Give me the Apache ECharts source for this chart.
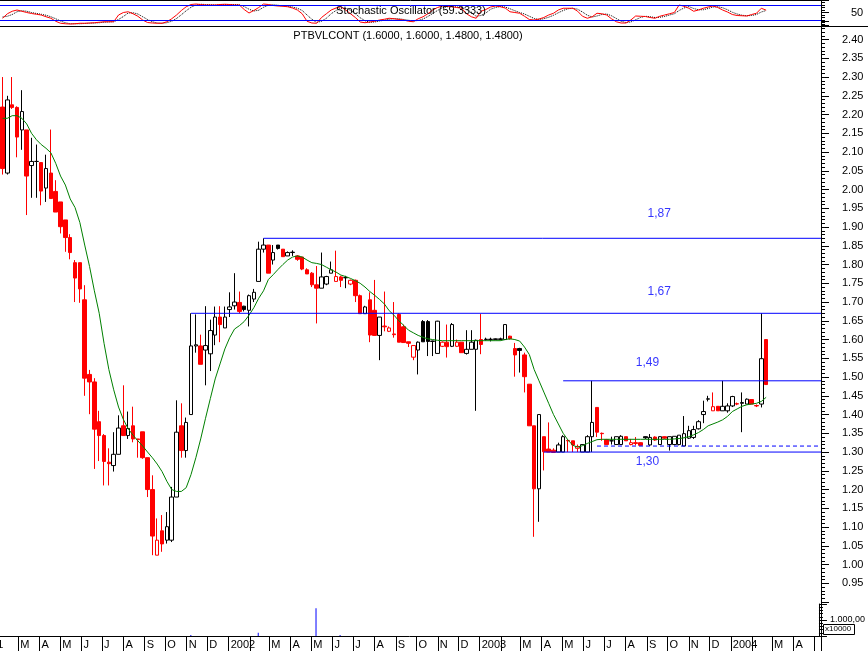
<!DOCTYPE html>
<html><head><meta charset="utf-8">
<script src="https://cdn.jsdelivr.net/npm/echarts@6/dist/echarts.min.js"></script>
<style>html,body{margin:0;padding:0;background:#fff}#c{width:868px;height:651px}</style>
</head><body><div id="c"></div><script>
// ---- data ----
const firstWeek = [2001, 1, 7]; // first candle (weekly bars)
const opens = [2.22,2.044,2.226,2.219,2.159,2.159,2.064,2.075,2.072,2.004,
2.044,1.995,1.967,1.919,1.872,1.805,1.805,1.706,1.507,1.487,
1.381,1.344,1.273,1.264,1.294,1.37,1.344,1.37,1.335,1.354,
1.285,1.20,1.025,1.09,1.065,1.065,1.18,1.37,1.304,1.40,
1.583,1.583,1.572,1.562,1.612,1.66,1.631,1.68,1.69,1.699,
1.689,1.678,1.708,1.755,1.841,1.852,1.812,1.852,1.841,1.823,
1.832,1.823,1.82,1.786,1.777,1.746,1.737,1.748,1.777,1.755,
1.767,1.765,1.748,1.758,1.717,1.669,1.706,1.678,1.611,1.636,
1.622,1.615,1.667,1.634,1.594,1.553,1.572,1.648,1.648,1.595,
1.563,1.582,1.593,1.582,1.582,1.593,1.563,1.574,1.574,1.60,
1.60,1.60,1.60,1.60,1.60,1.609,1.576,1.576,1.559,1.481,
1.37,1.202,1.341,1.308,1.305,1.30,1.30,1.331,1.33,1.31,
1.30,1.30,1.341,1.419,1.35,1.333,1.33,1.32,1.32,1.341,
1.32,1.325,1.325,1.341,1.319,1.34,1.32,1.341,1.32,1.32,
1.32,1.316,1.337,1.339,1.362,1.40,1.441,1.41,1.422,1.41,
1.41,1.423,1.429,1.43,1.428,1.44,1.424,1.428,1.60];
const highs = [2.30,2.25,2.30,2.222,2.265,2.159,2.138,2.12,2.072,2.093,
2.16,2.025,1.967,1.919,1.881,1.812,1.805,1.745,1.519,1.497,
1.41,1.348,1.31,1.353,1.398,1.478,1.408,1.421,1.335,1.354,
1.285,1.238,1.123,1.132,1.14,1.207,1.438,1.43,1.392,1.67,
1.667,1.613,1.689,1.653,1.688,1.689,1.688,1.726,1.777,1.728,
1.69,1.72,1.735,1.861,1.87,1.852,1.852,1.852,1.841,1.835,
1.838,1.825,1.82,1.79,1.78,1.796,1.832,1.77,1.808,1.837,
1.77,1.77,1.76,1.76,1.72,1.69,1.726,1.759,1.66,1.728,
1.635,1.70,1.67,1.64,1.594,1.584,1.595,1.652,1.652,1.597,
1.65,1.595,1.64,1.644,1.60,1.593,1.625,1.625,1.60,1.668,
1.605,1.605,1.603,1.605,1.64,1.61,1.591,1.578,1.565,1.481,
1.37,1.40,1.341,1.379,1.31,1.325,1.345,1.332,1.33,1.32,
1.32,1.345,1.49,1.419,1.352,1.335,1.341,1.341,1.345,1.341,
1.335,1.34,1.326,1.342,1.348,1.342,1.342,1.342,1.341,1.342,
1.345,1.396,1.37,1.37,1.385,1.437,1.45,1.459,1.422,1.49,
1.43,1.45,1.432,1.459,1.443,1.44,1.427,1.67,1.60];
const lows = [2.04,2.04,2.215,2.086,2.106,1.932,1.978,1.978,1.958,1.967,
1.976,1.94,1.883,1.834,1.814,1.70,1.698,1.45,1.401,1.255,
1.276,1.211,1.211,1.248,1.294,1.344,1.335,1.326,1.285,1.282,
1.18,1.025,1.025,1.034,1.056,1.06,1.18,1.285,1.285,1.40,
1.565,1.534,1.478,1.516,1.585,1.593,1.631,1.66,1.68,1.67,
1.675,1.635,1.70,1.755,1.832,1.777,1.80,1.84,1.821,1.823,
1.823,1.81,1.785,1.775,1.74,1.643,1.737,1.745,1.777,1.755,
1.74,1.737,1.745,1.70,1.669,1.669,1.593,1.611,1.545,1.622,
1.62,1.605,1.593,1.592,1.58,1.545,1.507,1.594,1.556,1.556,
1.563,1.58,1.552,1.58,1.58,1.565,1.56,1.574,1.41,1.561,
1.597,1.595,1.598,1.598,1.60,1.60,1.501,1.512,1.459,1.37,
1.074,1.114,1.251,1.30,1.299,1.30,1.30,1.30,1.30,1.30,
1.30,1.30,1.30,1.34,1.33,1.32,1.32,1.319,1.319,1.33,
1.318,1.318,1.318,1.335,1.316,1.33,1.319,1.335,1.304,1.318,
1.318,1.316,1.335,1.335,1.36,1.377,1.435,1.41,1.41,1.41,
1.405,1.42,1.425,1.353,1.428,1.428,1.42,1.419,1.48];
const closes = [2.056,2.239,2.219,2.14,2.208,2.036,2.075,2.075,1.996,2.056,
1.976,1.94,1.901,1.872,1.832,1.764,1.735,1.497,1.487,1.361,
1.344,1.275,1.269,1.294,1.364,1.344,1.363,1.335,1.333,1.285,
1.20,1.076,1.065,1.055,1.101,1.18,1.353,1.304,1.379,1.583,
1.586,1.534,1.584,1.624,1.66,1.64,1.66,1.687,1.70,1.675,
1.68,1.717,1.726,1.841,1.852,1.777,1.832,1.843,1.821,1.832,
1.833,1.814,1.788,1.775,1.746,1.737,1.767,1.768,1.786,1.768,
1.758,1.765,1.758,1.717,1.669,1.687,1.612,1.611,1.66,1.634,
1.631,1.613,1.593,1.592,1.59,1.584,1.593,1.594,1.595,1.596,
1.649,1.593,1.581,1.64,1.593,1.565,1.574,1.593,1.598,1.587,
1.601,1.601,1.602,1.602,1.64,1.602,1.559,1.571,1.501,1.37,
1.202,1.40,1.301,1.30,1.299,1.319,1.341,1.33,1.319,1.315,
1.32,1.341,1.379,1.353,1.349,1.32,1.33,1.341,1.342,1.33,
1.325,1.323,1.318,1.338,1.339,1.332,1.341,1.337,1.341,1.342,
1.345,1.349,1.357,1.36,1.381,1.408,1.442,1.421,1.41,1.422,
1.423,1.448,1.428,1.432,1.441,1.428,1.423,1.549,1.48];
const movingAvg = [2.19,2.19,2.197,2.197,2.19,2.175,2.15,2.133,2.12,2.11,
2.098,2.07,2.036,2.012,1.975,1.952,1.912,1.852,1.795,1.73,
1.67,1.59,1.52,1.466,1.42,1.387,1.362,1.345,1.33,1.316,
1.30,1.285,1.268,1.248,1.222,1.20,1.195,1.195,1.205,1.24,
1.285,1.335,1.39,1.443,1.495,1.535,1.575,1.605,1.628,1.637,
1.648,1.665,1.685,1.71,1.73,1.76,1.773,1.787,1.80,1.812,
1.82,1.823,1.82,1.812,1.805,1.803,1.80,1.793,1.786,1.78,
1.772,1.768,1.763,1.757,1.75,1.74,1.728,1.718,1.707,1.695,
1.677,1.665,1.65,1.638,1.625,1.618,1.611,1.606,1.602,1.60,
1.598,1.597,1.597,1.597,1.597,1.597,1.597,1.597,1.597,1.597,
1.597,1.597,1.597,1.597,1.60,1.602,1.60,1.596,1.58,1.56,
1.52,1.49,1.46,1.43,1.40,1.375,1.35,1.332,1.318,1.313,
1.317,1.323,1.328,1.333,1.334,1.334,1.334,1.334,1.334,1.334,
1.334,1.334,1.334,1.334,1.334,1.334,1.334,1.334,1.334,1.335,
1.336,1.338,1.341,1.346,1.352,1.36,1.37,1.375,1.38,1.386,
1.395,1.408,1.415,1.422,1.426,1.428,1.43,1.435,1.446];
const stochK = [27,45,55,60,55,50,46,43,40,33,
27,15,7,5,4,5,7,7,8,9,
11,13,13,13,40,50,53,45,35,20,
10,8,7,7,13,25,40,58,73,82,
84,82,80,80,80,82,83,82,80,80,
62,48,58,70,84,82,78,76,75,73,
68,60,45,15,8,7,30,45,60,68,
73,60,45,30,12,9,12,15,20,23,
27,25,22,20,15,13,25,33,45,60,
70,76,74,73,70,67,45,33,27,55,
62,72,76,73,68,53,50,47,35,22,
20,24,30,40,47,60,67,67,67,55,
35,27,33,47,45,40,25,13,8,8,
20,36,35,34,30,27,35,40,45,50,
80,75,67,55,60,67,72,76,70,60,
52,42,38,37,36,42,47,67,59.33];
const stochD = [32,35,42,53,57,55,50,46,43,39,
33,25,16,9,5,5,5,6,7,8,
9,11,12,13,22,34,48,49,44,33,
22,13,8,7,9,15,26,41,57,71,
80,83,82,81,80,81,82,82,82,81,
74,63,56,59,71,79,81,79,76,75,
72,67,58,40,23,10,15,27,45,58,
67,67,59,45,29,17,11,12,16,19,
23,25,25,22,19,16,18,24,34,46,
58,69,73,74,72,70,61,48,35,38,
48,63,70,74,72,65,57,50,44,35,
26,22,25,31,39,49,58,65,67,63,
52,39,32,36,42,44,37,26,15,10,
12,21,30,35,33,30,31,34,40,45,
58,68,74,66,61,61,66,72,73,69,
61,51,44,39,37,38,42,52,58];
const volumeWeeks = [39, 53, 65, 70];
const volumeValues = [60, 200, 1730, 60];
const levelValues = [1.87, 1.67, 1.49, 1.30, 1.316];
const levelStartWeeks = [54, 39, 116, 112, 123];
const levelDashed = [false, false, false, false, true];
const levelLabels = ['1,87', '1,67', '1,49', '1,30'];
const levelLabelDates = ['2003-09-16', '2003-09-16', '2003-08-30', '2003-08-30'];
const levelLabelPrices = [1.935, 1.727, 1.537, 1.274];
const monthInitials = ['J','F','M','A','M','J','J','A','S','O','N','D'];
const firstYearLabel = '2001';
const priceTitle = 'PTBVLCONT (1.6000, 1.6000, 1.4800, 1.4800)';
const stochTitle = 'Stochastic Oscillator (59.3333)';

// ---- build ----
const DAY = 86400000;
const yearStart = new Date(2001, 0, 1).getTime();
const xMin = yearStart + 33.31 * DAY;      // left edge of the visible window
const xMax = yearStart + 1222.45 * DAY;    // right edge (price axis)
const t0 = new Date(firstWeek[0], firstWeek[1], firstWeek[2]).getTime();
const dates = opens.map((_, i) => t0 + i * 7 * DAY);
const RED = '#ff0000', BLUE = '#0000ff';
const FONT = 'Liberation Sans, Arial, sans-serif';

const candleData = opens.map((o, i) => {
  const c = closes[i];
  const prev = i > 0 ? closes[i - 1] : Infinity;
  const col = c < prev ? RED : '#000';
  const fill = c < o ? col : '#fff';
  return {value: [dates[i], o, c, lows[i], highs[i]],
    itemStyle: {color: fill, color0: fill, borderColor: col, borderColor0: col}};
});
const maData = movingAvg.map((v, i) => [dates[i], v]);
const kData = stochK.map((v, i) => [dates[i], v]);
const dData = stochD.map((v, i) => [dates[i], v]);
const volData = volumeWeeks.map((w, i) => [dates[w], volumeValues[i]]);
const labelData = levelLabels.map((t, i) => ({value: [new Date(levelLabelDates[i] + 'T00:00:00').getTime(), levelLabelPrices[i]], name: t}));

const levelSeries = levelValues.map((v, i) => ({
  type: 'line', xAxisIndex: 1, yAxisIndex: 1, symbol: 'none', showSymbol: false, silent: true, z: 5,
  data: [[dates[levelStartWeeks[i]], v], [xMax, v]],
  lineStyle: {color: BLUE, width: 1, type: levelDashed[i] ? [4, 3] : 'solid'}
}));

const L = 0, R = 47;
const hiddenX = (g) => ({type: 'time', gridIndex: g, min: xMin, max: xMax, show: false});

const option = {
  animation: false,
  backgroundColor: '#fff',
  textStyle: {fontFamily: FONT},
  title: [
    {text: stochTitle, left: 411, top: 5, textAlign: 'center', padding: 0,
      textStyle: {fontSize: 11, fontWeight: 'normal', color: '#000', fontFamily: FONT}},
    {text: priceTitle, left: 408, top: 30, textAlign: 'center', padding: 0,
      textStyle: {fontSize: 11, fontWeight: 'normal', color: '#000', fontFamily: FONT}}
  ],
  grid: [
    {left: L, right: R, top: 0, height: 25},
    {left: L, right: R, top: 20.8, height: 581.25},
    {left: L, right: R, top: 604, height: 32}
  ],
  xAxis: [hiddenX(0), hiddenX(1), {
    type: 'time', gridIndex: 2, min: xMin, max: xMax, maxInterval: 31 * DAY, splitNumber: 40,
    axisLine: {show: true, lineStyle: {color: '#000', width: 1}},
    axisTick: {show: true, length: 15, lineStyle: {color: '#000', width: 1}},
    splitLine: {show: false},
    axisLabel: {show: true, showMinLabel: false, showMaxLabel: false, margin: 3, align: 'left', padding: [0, 0, 0, 2],
      fontSize: 11, color: '#000', fontFamily: FONT, hideOverlap: false,
      formatter: function (v) {
        const d = new Date(v);
        if (d.getDate() !== 1 || v > xMax - 10 * DAY) return '';
        const m = d.getMonth();
        if (m === 0) return String(d.getFullYear());
        if (m === 1) return '';
        return monthInitials[m];
      }}
  }],
  yAxis: [
    {type: 'value', gridIndex: 0, position: 'right', min: 0, max: 100, interval: 50,
      axisLine: {show: true, lineStyle: {color: '#000'}},
      axisTick: {show: true, length: 8, lineStyle: {color: '#000'}},
      minorTick: {show: true, splitNumber: 5, length: 4, lineStyle: {color: '#000'}},
      splitLine: {show: false},
      axisLabel: {margin: 30, fontSize: 11, color: '#000', fontFamily: FONT,
        formatter: v => (v === 50 ? '50' : '')}},
    {type: 'value', gridIndex: 1, position: 'right', min: 0.90, max: 2.45, interval: 0.05,
      axisLine: {show: true, lineStyle: {color: '#000'}},
      axisTick: {show: true, length: 8, lineStyle: {color: '#000'}},
      minorTick: {show: true, splitNumber: 5, length: 4, lineStyle: {color: '#000'}},
      splitLine: {show: false},
      axisLabel: {margin: 21, fontSize: 11, color: '#000', fontFamily: FONT, padding: [6, 0, 0, 0],
        formatter: v => { const r = Math.round(v * 100) / 100; return (r < 0.95 || r > 2.40) ? '' : r.toFixed(2); }}},
    {type: 'value', gridIndex: 2, position: 'right', min: 0, max: 2000, interval: 1000,
      axisLine: {show: true, lineStyle: {color: '#000'}},
      axisTick: {show: true, length: 8, lineStyle: {color: '#000'}},
      minorTick: {show: true, splitNumber: 5, length: 4, lineStyle: {color: '#000'}},
      splitLine: {show: false},
      axisLabel: {margin: 11, fontSize: 9, color: '#000', fontFamily: FONT,
        formatter: v => (v === 1000 ? '1.000,00' : '')}}
  ],
  series: [
    {type: 'line', name: 'K', xAxisIndex: 0, yAxisIndex: 0, data: kData, showSymbol: false, symbol: 'none',
      lineStyle: {color: RED, width: 1}, z: 3,
      markLine: {silent: true, symbol: ['none', 'none'], label: {show: false},
        lineStyle: {color: BLUE, width: 1, type: 'solid'},
        data: [{yAxis: 80}, {yAxis: 20}]}},
    {type: 'line', name: 'D', xAxisIndex: 0, yAxisIndex: 0, data: dData, showSymbol: false, symbol: 'none',
      lineStyle: {color: '#000', width: 1, type: 'dotted'}, z: 2},
    {type: 'candlestick', name: 'price', xAxisIndex: 1, yAxisIndex: 1, data: candleData, barWidth: 4,
      itemStyle: {borderWidth: 1}, z: 2},
    {type: 'line', name: 'MA', xAxisIndex: 1, yAxisIndex: 1, data: maData, showSymbol: false, symbol: 'none',
      lineStyle: {color: '#008000', width: 1}, z: 4},
    {type: 'scatter', name: 'labels', xAxisIndex: 1, yAxisIndex: 1, data: labelData, symbolSize: 0,
      label: {show: true, position: 'inside', formatter: p => p.name, color: BLUE, fontSize: 12, fontFamily: FONT}},
    {type: 'bar', name: 'volume', xAxisIndex: 2, yAxisIndex: 2, data: volData, barWidth: 1,
      itemStyle: {color: BLUE}}
  ].concat(levelSeries),
  graphic: [
    {type: 'line', shape: {x1: 0, y1: 0.5, x2: 821, y2: 0.5}, style: {stroke: '#000', lineWidth: 1}, z: 100},
    {type: 'line', shape: {x1: 0, y1: 26.5, x2: 868, y2: 26.5}, style: {stroke: '#000', lineWidth: 1}, z: 100},
    {type: 'line', shape: {x1: 821.5, y1: 0, x2: 821.5, y2: 651}, style: {stroke: '#000', lineWidth: 1}, z: 100},
    {type: 'rect', shape: {x: 823.5, y: 624.5, width: 31, height: 10}, style: {fill: '#fff', stroke: '#000', lineWidth: 1}, z: 100},
    {type: 'text', x: 825, y: 625, style: {text: 'x10000', fontSize: 8, fill: '#000', fontFamily: FONT}, z: 101},
    {type: 'text', x: -21, y: 639, style: {text: firstYearLabel, fontSize: 11, fill: '#000', fontFamily: FONT}, z: 101}
  ]
};
const chart = echarts.init(document.getElementById('c'), null, {renderer: 'canvas', width: 868, height: 651});
chart.setOption(option);
</script></body></html>
